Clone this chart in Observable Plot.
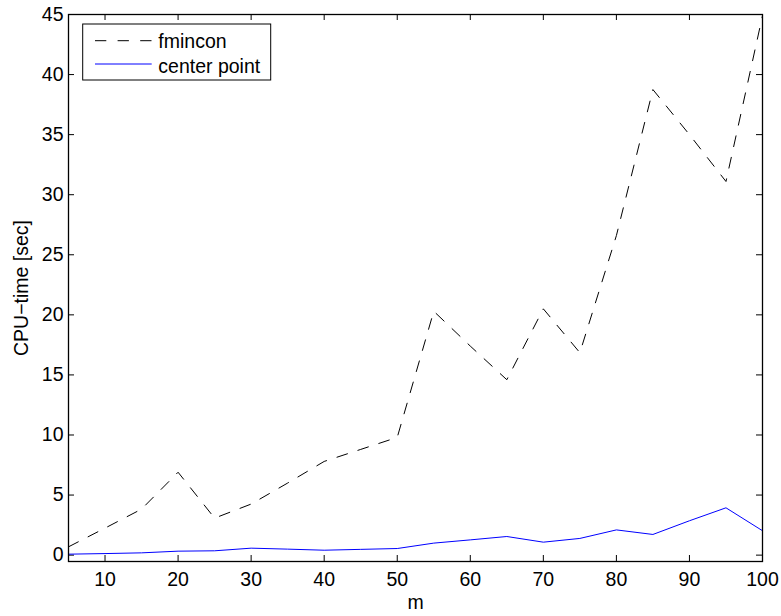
<!DOCTYPE html>
<html>
<head>
<meta charset="utf-8">
<script src="https://cdn.jsdelivr.net/npm/d3@7"></script>
<script src="https://cdn.jsdelivr.net/npm/@observablehq/plot@0.6"></script>
<style>
  body { margin: 0; background: #fff; }
  svg { display: block; }
</style>
</head>
<body>
<div id="chart"></div>
<script>
// ---- data ----
const m = [5, 10, 15, 20, 25, 30, 35, 40, 45, 50, 55, 60, 65, 70, 75, 80, 85, 90, 95, 100];
const fmincon = [0.69, 2.25, 3.83, 6.9, 3.08, 4.25, 6.0, 7.8, 8.8, 9.8, 20.3, 17.4, 14.6, 20.5, 16.85, 26.6, 38.75, 35.0, 31.1, 44.9];
const centerPoint = [0.08, 0.13, 0.19, 0.33, 0.36, 0.58, 0.5, 0.41, 0.48, 0.55, 1.0, 1.27, 1.55, 1.08, 1.39, 2.1, 1.72, 2.86, 3.94, 2.03];
const xTicks = [10, 20, 30, 40, 50, 60, 70, 80, 90, 100];
const yTicks = [0, 5, 10, 15, 20, 25, 30, 35, 40, 45];
const seriesNames = ["fmincon", "center point"];
const xLabel = "m";
const yLabel = "CPU\u2212time [sec]";

const rows = m.map((v, i) => ({m: v, f: fmincon[i], c: centerPoint[i]}));

// ---- layout ----
const W = 781, H = 616;
const mL = 68, mR = 19, mT = 14, mB = 55;
const innerW = W - mL - mR, innerH = H - mT - mB;
const tickLen = 6;
const font = "'Liberation Sans', Arial, Helvetica, sans-serif";
const fs = "19.5px";

const chart = Plot.plot({
  width: W,
  height: H,
  marginLeft: mL,
  marginRight: mR,
  marginTop: mT,
  marginBottom: mB,
  style: {fontFamily: font, fontSize: fs, color: "black", background: "white", overflow: "visible"},
  x: {domain: [5, 100]},
  y: {domain: [-0.53, 45]},
  marks: [
    // inward ticks on all four sides
    Plot.ruleX(xTicks, {insetTop: innerH - tickLen, stroke: "black", strokeWidth: 1}),
    Plot.ruleX(xTicks, {insetBottom: innerH - tickLen, stroke: "black", strokeWidth: 1}),
    Plot.ruleY(yTicks, {insetRight: innerW - tickLen, stroke: "black", strokeWidth: 1}),
    Plot.ruleY(yTicks, {insetLeft: innerW - tickLen, stroke: "black", strokeWidth: 1}),
    Plot.line(rows, {x: "m", y: "f", stroke: "black", strokeWidth: 1, strokeDasharray: "11,11"}),
    Plot.line(rows, {x: "m", y: "c", stroke: "#0000ff", strokeWidth: 1}),
    Plot.frame({stroke: "black", strokeWidth: 1.3}),
    Plot.axisX(xTicks, {tickSize: 0, tickPadding: 11, label: null}),
    Plot.axisY(yTicks, {tickSize: 0, tickPadding: 5, label: null}),
    Plot.text([xLabel], {frameAnchor: "bottom", dy: 41, textAnchor: "middle", lineAnchor: "middle", text: d => d}),
    Plot.text([yLabel], {frameAnchor: "left", rotate: -90, dx: -47, textAnchor: "middle", lineAnchor: "middle", text: d => d})
  ]
});

document.getElementById("chart").appendChild(chart);

// ---- legend inside the plot, top-left ----
const svg = d3.select(chart);
const lg = svg.append("g")
  .attr("font-family", font).attr("font-size", fs).attr("text-anchor", "start");
lg.append("rect")
  .attr("x", 82.7).attr("y", 24).attr("width", 188).attr("height", 56)
  .attr("fill", "white").attr("stroke", "black").attr("stroke-width", 1);
const legendItems = [
  {name: seriesNames[0], stroke: "black", dash: "11.3,11.3", ly: 40.7, ty: 48.3},
  {name: seriesNames[1], stroke: "#0000ff", dash: null, ly: 64, ty: 72.5}
];
for (const it of legendItems) {
  lg.append("line")
    .attr("x1", 95).attr("x2", 151.7).attr("y1", it.ly).attr("y2", it.ly)
    .attr("stroke", it.stroke).attr("stroke-width", 1)
    .attr("stroke-dasharray", it.dash);
  lg.append("text")
    .attr("x", 158.3).attr("y", it.ty).attr("fill", "black")
    .attr("text-anchor", "start")
    .text(it.name);
}
</script>
</body>
</html>
